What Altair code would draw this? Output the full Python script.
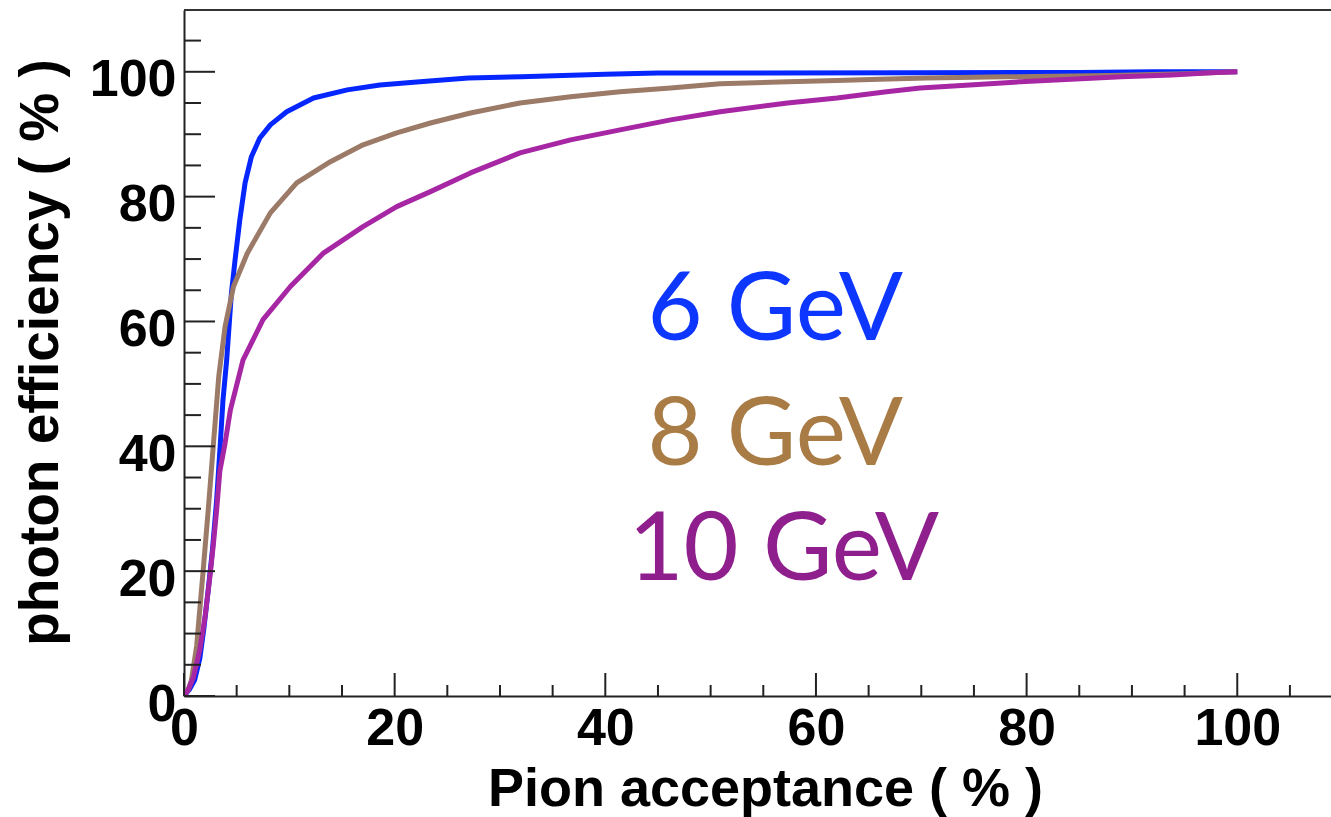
import altair as alt
import pandas as pd

# ---- data ----
x_6gev = [0, 0.5, 1.0, 1.5, 1.9, 2.3, 2.7, 3.1, 3.45, 3.7, 4.05, 4.5, 4.85, 5.3, 5.8, 6.4, 7.2,
          8.2, 9.75, 12.3, 15.5, 18.6, 22.4, 27.0, 32.0, 40.0, 45.0, 55.0, 70.0, 85.0, 92.0, 100.0]
y_6gev = [0, 1.0, 2.5, 6.0, 11.0, 17.0, 23.4, 31.4, 40.5, 47.4, 53.8, 64.5, 69.9, 76.3, 82.2, 86.4, 89.4,
          91.5, 93.6, 95.8, 97.1, 97.9, 98.4, 99.0, 99.2, 99.6, 99.8, 99.8, 99.85, 99.9, 100.0, 100.0]

x_8gev = [0, 0.4, 0.7, 1.2, 1.8, 2.3, 2.8, 3.3, 3.9, 4.7, 6.0, 8.2, 10.7, 13.9, 17.0, 20.2, 23.4,
          27.2, 31.9, 36.7, 41.4, 46.2, 50.9, 57.3, 62.0, 66.0, 70.5, 78.0, 88.0, 95.0, 100.0]
y_8gev = [0, 1.0, 2.5, 8.0, 19.7, 29.8, 40.5, 51.2, 59.2, 65.6, 70.9, 77.4, 82.2, 85.6, 88.3, 90.2, 91.8,
          93.4, 95.0, 96.0, 96.8, 97.4, 98.1, 98.4, 98.6, 98.8, 99.0, 99.2, 99.4, 99.7, 100.0]

x_10gev = [0, 0.4, 0.9, 1.5, 2.0, 2.5, 2.8, 3.1, 3.4, 3.9, 4.4, 5.6, 7.5, 10.1, 13.2, 17.0, 20.2, 23.4,
           27.2, 31.9, 36.7, 41.4, 46.2, 50.9, 57.3, 62.0, 66.7, 69.9, 74.6, 79.4, 84.2, 89.0, 93.8, 97.9, 100.0]
y_10gev = [0, 1.0, 3.0, 7.4, 12.7, 19.7, 24.5, 29.8, 36.0, 40.5, 45.8, 53.8, 60.3, 65.6, 70.9, 75.2, 78.4, 80.8,
           83.8, 87.0, 89.1, 90.7, 92.3, 93.6, 95.0, 95.8, 96.8, 97.4, 97.9, 98.4, 98.8, 99.2, 99.5, 99.9, 100.0]

series_names = ["6 GeV", "8 GeV", "10 GeV"]
line_colors = ["#0526ff", "#9c7a68", "#a626a4"]
text_colors = ["#0d36ff", "#a97b45", "#8f1f8d"]
label_x = [44.0, 44.0, 42.2]
label_y = [57.0, 37.0, 18.6]

x_major = [0, 20, 40, 60, 80, 100]
x_minor = [5, 10, 15, 25, 30, 35, 45, 50, 55, 65, 70, 75, 85, 90, 95, 105]
y_major = [0, 20, 40, 60, 80, 100]
y_minor = [5, 10, 15, 25, 30, 35, 45, 50, 55, 65, 70, 75, 85, 90, 95, 105]

W, H = 1147, 686
FONT = "Liberation Sans"

xs = alt.Scale(domain=[0, 108.9], nice=False, zero=False)
ys = alt.Scale(domain=[0, 109.9], nice=False, zero=False)

x_axis = alt.Axis(values=x_major, ticks=False, grid=False, domainColor="#222222", domainWidth=2,
                  labelFont=FONT, labelFontWeight="bold", labelFontSize=52, labelColor="black",
                  labelPadding=7, labelBaseline="top", labelAlign="center", labelFlush=False,
                  labelOverlap=False, labelBound=False,
                  title="Pion acceptance ( % )", titleFont=FONT, titleFontWeight="bold",
                  titleFontSize=54, titleColor="black", titleX=581, titleY=109,
                  titleAlign="center", titleBaseline="alphabetic")
y_axis = alt.Axis(values=y_major, ticks=False, grid=False, domainColor="#222222", domainWidth=2,
                  labelFont=FONT, labelFontWeight="bold", labelFontSize=52, labelColor="black",
                  labelPadding=8, labelOffset=8, labelBaseline="middle", labelAlign="right",
                  labelFlush=False, labelOverlap=False, labelBound=False,
                  title="photon efficiency ( % )", titleFont=FONT, titleFontWeight="bold",
                  titleFontSize=55, titleColor="black", titleAngle=270, titleX=-127, titleY=342,
                  titleAlign="center", titleBaseline="alphabetic")


def X(f):
    return alt.X(f"{f}:Q", scale=xs, axis=x_axis)


def Y(f):
    return alt.Y(f"{f}:Q", scale=ys, axis=y_axis)


layers = []
for xv, yv, col in [(x_6gev, y_6gev, line_colors[0]),
                    (x_8gev, y_8gev, line_colors[1]),
                    (x_10gev, y_10gev, line_colors[2])]:
    d = pd.DataFrame({"x": xv, "y": yv})
    layers.append(alt.Chart(d).mark_line(color=col, strokeWidth=5, strokeJoin="round",
                                         clip=True).encode(x=X("x"), y=Y("y")))

tick_style = dict(color="#222222", strokeWidth=2)
layers.append(alt.Chart(pd.DataFrame({"x": x_major})).mark_rule(**tick_style)
              .encode(x=X("x"), y=alt.value(H), y2=alt.value(H - 23)))
layers.append(alt.Chart(pd.DataFrame({"x": x_minor})).mark_rule(**tick_style)
              .encode(x=X("x"), y=alt.value(H), y2=alt.value(H - 11)))
layers.append(alt.Chart(pd.DataFrame({"y": y_major})).mark_rule(**tick_style)
              .encode(y=Y("y"), x=alt.value(0), x2=alt.value(31)))
layers.append(alt.Chart(pd.DataFrame({"y": y_minor})).mark_rule(**tick_style)
              .encode(y=Y("y"), x=alt.value(0), x2=alt.value(17)))
layers.append(alt.Chart(pd.DataFrame({"a": [0]})).mark_rule(color="#333333", strokeWidth=2)
              .encode(x=alt.value(0), x2=alt.value(W), y=alt.value(0)))

ann = pd.DataFrame({"x": label_x, "y": label_y, "label": series_names})
layers.append(alt.Chart(ann).mark_text(font="Lato", fontSize=95, align="left", baseline="alphabetic")
              .encode(x=X("x"), y=Y("y"), text="label:N",
                      color=alt.Color("label:N", scale=alt.Scale(domain=series_names, range=text_colors),
                                      legend=None)))

chart = alt.layer(*layers).properties(
    width=W, height=H,
    autosize=alt.AutoSizeParams(type="none"),
    padding={"left": 184, "top": 10, "right": 0, "bottom": 121},
    background="white",
).configure_view(stroke=None)

chart.save("out.html", embed_options={"renderer": "svg", "actions": False})
